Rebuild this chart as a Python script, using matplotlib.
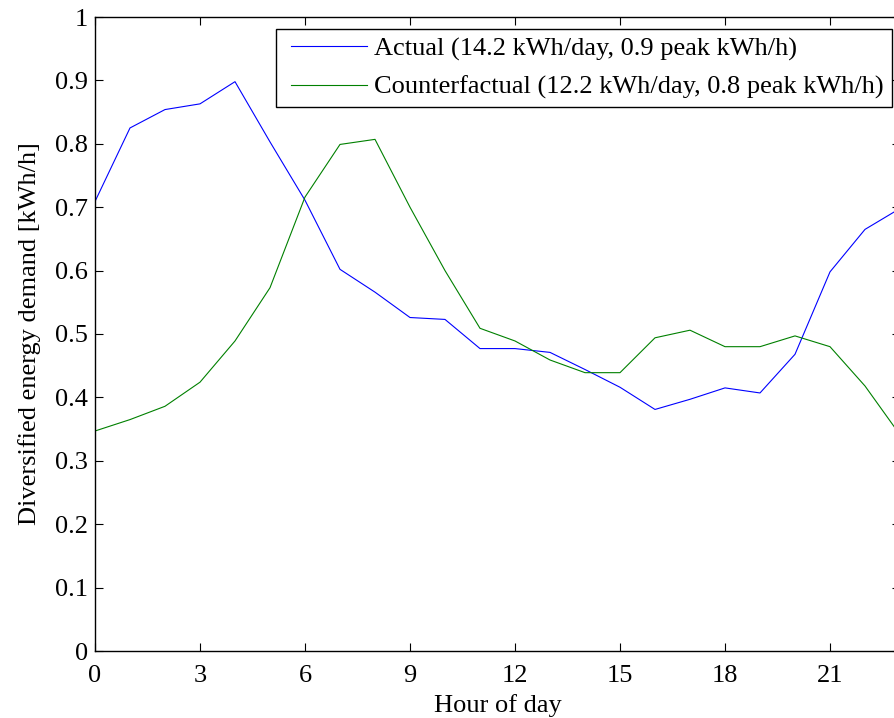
import matplotlib
matplotlib.use("Agg")
import matplotlib.pyplot as plt
from matplotlib.legend_handler import HandlerLine2D

hours = list(range(24))
actual = [0.709, 0.825, 0.854, 0.863, 0.898, 0.803, 0.711, 0.602, 0.566, 0.526,
          0.523, 0.477, 0.477, 0.471, 0.444, 0.416, 0.381, 0.397, 0.415, 0.407,
          0.468, 0.598, 0.665, 0.698]
counterfactual = [0.347, 0.365, 0.386, 0.424, 0.489, 0.573, 0.716, 0.799, 0.807, 0.700,
                  0.600, 0.509, 0.489, 0.459, 0.439, 0.439, 0.494, 0.506, 0.480, 0.480,
                  0.497, 0.480, 0.418, 0.341]
labels = ["Actual (14.2 kWh/day, 0.9 peak kWh/h)",
          "Counterfactual (12.2 kWh/day, 0.8 peak kWh/h)"]
xticks = [0, 3, 6, 9, 12, 15, 18, 21]
yticks = [0, 0.1, 0.2, 0.3, 0.4, 0.5, 0.6, 0.7, 0.8, 0.9, 1]
ytick_labels = ["0", "0.1", "0.2", "0.3", "0.4", "0.5", "0.6", "0.7", "0.8", "0.9", "1"]

plt.rcParams['font.family'] = ['Liberation Serif', 'DejaVu Serif']
fs = 19


class InsetHandler(HandlerLine2D):
    def create_artists(self, legend, orig_handle, xdescent, ydescent, width,
                       height, fontsize, trans):
        return super().create_artists(legend, orig_handle, xdescent - 5,
                                      ydescent, width - 6.5, height, fontsize, trans)


W, H = 895, 718
fig = plt.figure(figsize=(W / 100, H / 100), dpi=100)
ax = fig.add_axes([95 / W, (H - 651) / H, 805 / W, 634 / H])

l1, = ax.plot(hours, actual, color=(0, 0, 1), lw=0.8, label=labels[0])
l2, = ax.plot(hours, counterfactual, color=(0, 0.5, 0), lw=0.8, label=labels[1])

ax.set_xlim(0, 23)
ax.set_ylim(0, 1)
ax.set_xticks(xticks)
ax.set_xticklabels([str(t) for t in xticks])
ax.set_yticks(yticks)
ax.set_yticklabels(ytick_labels)
ax.tick_params(direction='in', length=6, width=0.8, top=True, right=True,
               labelsize=fs)
ax.tick_params(axis='x', pad=10)
ax.tick_params(axis='y', pad=5)
for s in ax.spines.values():
    s.set_linewidth(1.0)

ax.set_xlabel("Hour of day", fontsize=fs, labelpad=5)
ax.set_ylabel("Diversified energy demand [kWh/h]", fontsize=fs, labelpad=10)

leg = ax.legend(loc='upper right', bbox_to_anchor=(892 / W, 1 - 29 / H),
                bbox_transform=fig.transFigure, fontsize=fs, frameon=True,
                fancybox=False, edgecolor='black', framealpha=1,
                handlelength=3.2, handletextpad=0.22, borderpad=0.3,
                labelspacing=0.55, borderaxespad=0,
                handler_map={matplotlib.lines.Line2D: InsetHandler()})
leg.get_frame().set_linewidth(1.0)

fig.savefig("out.png", dpi=100)
